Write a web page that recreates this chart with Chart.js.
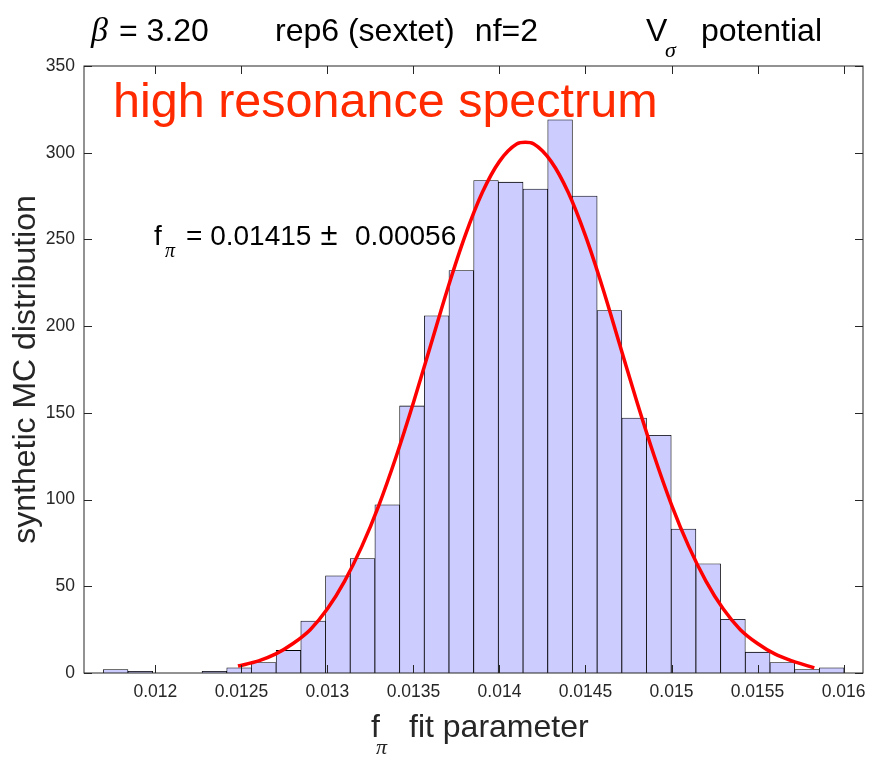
<!DOCTYPE html>
<html>
<head>
<meta charset="utf-8">
<script src="https://cdn.jsdelivr.net/npm/chart.js@4.4.1/dist/chart.umd.min.js"></script>
<style>
  html, body { margin: 0; padding: 0; background: #ffffff; }
  #wrap { width: 869px; height: 757px; position: relative; }
</style>
</head>
<body>
<div id="wrap"><canvas id="c" width="869" height="757"></canvas></div>
<script>
// Histogram of the synthetic Monte-Carlo f_pi fits (30 bins)
const binCenters = [
  0.0117688, 0.0119123, 0.0120559, 0.0121994, 0.0123429, 0.0124865,
  0.0126300, 0.0127735, 0.0129170, 0.0130606, 0.0132041, 0.0133476,
  0.0134912, 0.0136347, 0.0137782, 0.0139218, 0.0140653, 0.0142088,
  0.0143523, 0.0144959, 0.0146394, 0.0147829, 0.0149265, 0.0150700,
  0.0152135, 0.0153571, 0.0155006, 0.0156441, 0.0157876, 0.0159312
];
const binCounts = [
  2, 1, 0, 0, 1, 3,
  6, 13, 30, 56, 66, 97,
  154, 206, 232, 284, 283, 279,
  319, 275, 209, 147, 137, 83,
  63, 31, 12, 6, 2, 3
];

// Gaussian fit curve, sampled along the drawn line
const fitX = [
  0.01248, 0.0126, 0.0127, 0.0128, 0.0129, 0.0130, 0.0131, 0.0132, 0.0133,
  0.0134, 0.0135, 0.0136, 0.0137, 0.0138, 0.0139, 0.0140, 0.0141, 0.01415,
  0.0142, 0.0143, 0.0144, 0.0145, 0.0146, 0.0147, 0.0148, 0.0149, 0.0150,
  0.0151, 0.0152, 0.0153, 0.0154, 0.0155, 0.0156, 0.0157, 0.01583
];
const fitY = [
  4, 7, 11, 17, 25, 37, 53, 73, 97,
  125, 156, 189, 222, 252, 277, 295, 305, 306,
  305, 295, 277, 252, 222, 189, 156, 125, 97,
  73, 53, 37, 25, 17, 11, 7, 3
];

// Axis ticks
const xTickValues = [0.012, 0.0125, 0.013, 0.0135, 0.014, 0.0145, 0.015, 0.0155, 0.016];
const xTickLabels = ['0.012', '0.0125', '0.013', '0.0135', '0.014', '0.0145', '0.015', '0.0155', '0.016'];
const yTickValues = [0, 50, 100, 150, 200, 250, 300, 350];

const SANS = '"Liberation Sans", Arial, Helvetica, sans-serif';
const SERIF = '"Liberation Serif", "DejaVu Serif", serif';
const AXIS_COLOR = '#262626';

// Box around the axes with inward tick marks on all four sides
const boxPlugin = {
  id: 'box',
  afterDatasetsDraw(chart) {
    const { ctx, chartArea: a, scales } = chart;
    const tl = 8;
    ctx.save();
    ctx.strokeStyle = AXIS_COLOR;
    ctx.lineWidth = 1;
    ctx.beginPath();
    xTickValues.forEach(v => {
      const px = Math.round(scales.x.getPixelForValue(v)) + 0.5;
      ctx.moveTo(px, a.bottom); ctx.lineTo(px, a.bottom - tl);
      ctx.moveTo(px, a.top); ctx.lineTo(px, a.top + tl);
    });
    yTickValues.forEach(v => {
      const py = Math.round(scales.y.getPixelForValue(v)) + 0.5;
      ctx.moveTo(a.left, py); ctx.lineTo(a.left + tl, py);
      ctx.moveTo(a.right, py); ctx.lineTo(a.right - tl, py);
    });
    ctx.stroke();
    ctx.strokeRect(a.left, a.top, a.right - a.left, a.bottom - a.top);
    ctx.restore();
  }
};

// Title line, annotations and axis titles
const textPlugin = {
  id: 'texts',
  afterDraw(chart) {
    const ctx = chart.ctx;
    const a = chart.chartArea;
    ctx.save();
    ctx.textBaseline = 'alphabetic';
    ctx.fillStyle = '#000000';

    // header line
    ctx.textAlign = 'left';
    ctx.font = 'italic 34px ' + SERIF;
    ctx.fillText('\u03B2', 91, 41);
    ctx.font = '32px ' + SANS;
    ctx.fillText('= 3.20', 119, 41);
    ctx.fillText('rep6 (sextet)', 275, 41);
    ctx.textAlign = 'right';
    ctx.fillText('nf=2', 538, 41);
    ctx.textAlign = 'left';
    ctx.fillText('V', 646, 41);
    ctx.textAlign = 'right';
    ctx.fillText('potential', 822, 41);
    ctx.textAlign = 'left';
    ctx.font = 'italic 22px ' + SERIF;
    ctx.fillText('\u03C3', 665, 57);

    // red annotation
    ctx.fillStyle = '#ff2a00';
    ctx.font = '48.5px ' + SANS;
    ctx.fillText('high resonance spectrum', 113, 117);

    // fit result
    ctx.fillStyle = '#000000';
    ctx.font = '28px ' + SANS;
    ctx.fillText('f', 154, 245);
    ctx.fillText('= 0.01415', 186, 245);
    ctx.textAlign = 'left';
    ctx.fillText('0.00056', 355, 245);
    ctx.textAlign = 'center';
    ctx.font = '31px ' + SANS;
    ctx.fillText('\u00B1', 329, 245);
    ctx.textAlign = 'left';
    ctx.font = 'italic 20px ' + SERIF;
    ctx.fillText('\u03C0', 165, 257);

    // x axis title
    ctx.fillStyle = '#262626';
    ctx.font = '32px ' + SANS;
    ctx.fillText('f', 371, 737);
    ctx.fillText('fit parameter', 409, 737);
    ctx.font = 'italic 22px ' + SERIF;
    ctx.fillText('\u03C0', 376, 754);

    // y axis title
    ctx.save();
    ctx.translate(35, (a.top + a.bottom) / 2);
    ctx.rotate(-Math.PI / 2);
    ctx.textAlign = 'center';
    ctx.font = '32px ' + SANS;
    ctx.fillText('synthetic MC distribution', 0, 0);
    ctx.restore();

    ctx.restore();
  }
};

const histPoints = binCenters.map((x, i) => ({ x: x, y: binCounts[i] }));
const fitPoints = fitX.map((x, i) => ({ x: x, y: fitY[i] }));

new Chart(document.getElementById('c'), {
  type: 'bar',
  data: {
    datasets: [
      {
        type: 'line',
        data: fitPoints,
        borderColor: '#ff0000',
        borderWidth: 3.5,
        pointRadius: 0,
        fill: false,
        cubicInterpolationMode: 'monotone',
        order: 0
      },
      {
        type: 'bar',
        data: histPoints,
        backgroundColor: '#ccccff',
        borderColor: '#000000',
        borderWidth: 0.8,
        barPercentage: 1.0,
        categoryPercentage: 1.0,
        order: 1
      }
    ]
  },
  options: {
    responsive: false,
    devicePixelRatio: 1,
    animation: false,
    layout: { padding: { top: 66, right: 6, bottom: 0, left: 0 } },
    plugins: { legend: { display: false }, tooltip: { enabled: false }, title: { display: false } },
    scales: {
      x: {
        type: 'linear',
        offset: false,
        min: 0.011585,
        max: 0.016113,
        grid: { display: false, drawTicks: false, offset: false },
        border: { display: false },
        afterBuildTicks: s => { s.ticks = xTickValues.map(v => ({ value: v })); },
        afterFit: s => { s.height = 84; s.paddingLeft = 0; s.paddingRight = 0; },
        ticks: {
          autoSkip: false,
          maxRotation: 0,
          padding: 9,
          color: '#262626',
          font: { family: SANS, size: 17.5 },
          callback: (v) => {
            const i = xTickValues.findIndex(t => Math.abs(t - v) < 1e-9);
            return i >= 0 ? xTickLabels[i] : '';
          }
        }
      },
      y: {
        min: 0,
        max: 350,
        grid: { display: false, drawTicks: false },
        border: { display: false },
        afterBuildTicks: s => { s.ticks = yTickValues.map(v => ({ value: v })); },
        afterFit: s => { s.width = 84; s.paddingTop = 0; s.paddingBottom = 0; },
        ticks: {
          autoSkip: false,
          padding: 9,
          color: '#262626',
          font: { family: SANS, size: 17.5 },
          callback: v => String(v)
        }
      }
    }
  },
  plugins: [boxPlugin, textPlugin]
});
</script>
</body>
</html>
